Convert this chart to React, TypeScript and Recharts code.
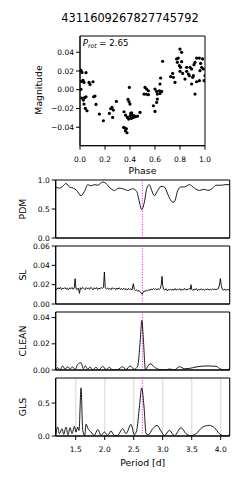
import React from 'react'
import {
  CartesianGrid,
  Line,
  LineChart,
  ReferenceArea,
  ReferenceLine,
  Scatter,
  ScatterChart,
  XAxis,
  YAxis,
} from 'recharts'

const FONT = '"DejaVu Sans", sans-serif'
const TICK_FONT = 7.5
const LABEL_FONT = 9.3

// folded light curve
const phase = [
  0.008, 0.016, 0.048, 0.011, 0.024, 0.032, 0.072, 0.08, 0.104, 0.008, 0.013, 0.037, 0.027, 0.048,
  0.032, 0.043, 0.056, 0.109, 0.12, 0.128, 0.155, 0.187, 0.235, 0.245, 0.256, 0.261, 0.291, 0.267,
  0.352, 0.365, 0.349, 0.36, 0.371, 0.376, 0.363, 0.379, 0.384, 0.395, 0.392, 0.4, 0.405, 0.4,
  0.411, 0.419, 0.427, 0.435, 0.445, 0.461, 0.48, 0.413, 0.389,
  0.52, 0.533, 0.547, 0.528, 0.512, 0.547, 0.6, 0.613, 0.619, 0.64, 0.635, 0.653, 0.587, 0.6,
  0.613, 0.619, 0.64, 0.645, 0.661,
  0.725, 0.741, 0.747, 0.76, 0.773, 0.787, 0.8, 0.813, 0.779, 0.795, 0.805, 0.813, 0.821, 0.8,
  0.84, 0.853, 0.867, 0.875, 0.88, 0.893, 0.901, 0.893, 0.907, 0.912, 0.92, 0.933, 0.955, 0.96,
  0.965, 0.973, 0.987, 0.981, 0.992, 1.0, 0.92, 0.933, 0.955, 0.853,
]
const mag = [
  0.0206, 0.0185, 0.0182, 0.0089, 0.01, 0.0078, 0.0078, 0.0057, 0.0085, 0.0004, -0.0089, -0.0085,
  -0.011, -0.0075, -0.0153, -0.0199, -0.0224, -0.0075, -0.0068, -0.0157, -0.026, -0.0331, -0.0253,
  -0.0203, -0.0189, -0.0295, -0.0125, -0.0217,
  -0.0235, -0.0271, -0.0402, -0.0409, -0.0417, -0.0459, -0.0438, -0.0295, -0.0103, 0.0025, -0.0128,
  -0.0153, -0.0253, -0.0281, -0.0306, -0.0271, -0.0295, -0.0278, -0.0288, -0.0281, -0.0242, -0.0246,
  -0.0313,
  0.0025, 0.0007, -0.0011, -0.0046, -0.0046, -0.0053, 0.0007, -0.0018, -0.0046, -0.0039, -0.0011,
  -0.0018, -0.0171, -0.0231, -0.0135, -0.01, 0.0061, 0.0125, 0.0303,
  0.0139, 0.0174, 0.0132, 0.0078, 0.0328, 0.0338, 0.0434, 0.0399, 0.0292, 0.0256, 0.0239, 0.0299,
  0.0174, 0.0196, 0.0114, 0.0196, 0.0167, 0.015, 0.0239, 0.0221, 0.0132, 0.0061, 0.015, 0.0267,
  0.0292, 0.0338, 0.0338, 0.0203, 0.0281, 0.0239, 0.0221, 0.0328, 0.0096, 0.015, -0.0046, 0.0085,
  0.0096, 0.0239,
]
const phaseTicks = [0, 0.2, 0.4, 0.6, 0.8, 1.0]
const magTicks = [-0.04, -0.02, 0, 0.02, 0.04]

const prot = 2.65
const periodTicks = [1.5, 2.0, 2.5, 3.0, 3.5, 4.0]

// PDM
const pdmP = [
  1.155, 1.218, 1.276, 1.333, 1.391, 1.46, 1.517, 1.592, 1.649, 1.707, 1.764, 1.822, 1.879, 1.966,
  2.023, 2.092, 2.167, 2.241, 2.31, 2.397, 2.483, 2.552, 2.598, 2.638, 2.684, 2.724, 2.77, 2.81,
  2.856, 2.914, 2.971, 3.029, 3.086, 3.144, 3.178, 3.21, 3.259, 3.316, 3.374, 3.46, 3.546, 3.632,
  3.718, 3.776, 3.862, 3.919, 4.006, 4.092, 4.155,
]
const pdmV = [
  0.88, 0.86, 0.89, 0.94, 0.88, 0.86, 0.82, 0.73, 0.8, 0.92, 0.9, 0.92, 0.91, 0.965, 0.94, 0.86,
  0.82, 0.86, 0.85, 0.82, 0.85, 0.8, 0.62, 0.49, 0.62, 0.85, 0.92, 0.82, 0.73, 0.82, 0.89, 0.88,
  0.76, 0.64, 0.615, 0.64, 0.82, 0.88, 0.88, 0.92, 0.86, 0.82, 0.84, 0.82, 0.86, 0.91, 0.91, 0.92,
  0.92,
]

// SL
const slP = [
  1.155, 1.175, 1.195, 1.215, 1.235, 1.255, 1.275, 1.295, 1.315, 1.335, 1.355, 1.375, 1.395, 1.415,
  1.435, 1.455, 1.475, 1.49, 1.505, 1.525, 1.545, 1.565, 1.58, 1.6, 1.62, 1.64, 1.66, 1.68, 1.7,
  1.72, 1.74, 1.76, 1.78, 1.8, 1.82, 1.84, 1.86, 1.88, 1.9, 1.92, 1.94, 1.96, 1.98, 1.994, 2.01,
  2.03, 2.05, 2.07, 2.09, 2.11, 2.13, 2.15, 2.17, 2.19, 2.21, 2.23, 2.25, 2.27, 2.29, 2.31, 2.33,
  2.35, 2.37, 2.39, 2.41, 2.43, 2.45, 2.47, 2.494, 2.51, 2.53, 2.55, 2.57, 2.59, 2.61, 2.63, 2.645,
  2.66, 2.68, 2.7, 2.72, 2.74, 2.76, 2.78, 2.8, 2.82, 2.84, 2.86, 2.88, 2.9, 2.92, 2.94, 2.96,
  2.975, 2.988, 3.0, 3.015, 3.035, 3.055, 3.075, 3.095, 3.115, 3.135, 3.155, 3.175, 3.195, 3.215,
  3.235, 3.255, 3.275, 3.295, 3.315, 3.335, 3.355, 3.375, 3.395, 3.415, 3.435, 3.455, 3.475,
  3.488, 3.5, 3.52, 3.54, 3.56, 3.58, 3.6, 3.62, 3.64, 3.66, 3.68, 3.7, 3.72, 3.74, 3.76, 3.78,
  3.8, 3.82, 3.84, 3.86, 3.88, 3.9, 3.92, 3.94, 3.96, 3.98, 3.994, 4.01, 4.03, 4.05, 4.07, 4.09,
  4.11, 4.13, 4.155,
]
const slV = [
  0.0162, 0.015, 0.0168, 0.0155, 0.0172, 0.0149, 0.0165, 0.0158, 0.017, 0.0152, 0.0163, 0.0147,
  0.0168, 0.0156, 0.0171, 0.0153, 0.0166, 0.0262, 0.0158, 0.0149, 0.0165, 0.011, 0.0168, 0.0152,
  0.0172, 0.016, 0.0148, 0.017, 0.0157, 0.0166, 0.0151, 0.0173, 0.0159, 0.0147, 0.0168, 0.0155,
  0.017, 0.0149, 0.0164, 0.0157, 0.0171, 0.016, 0.0175, 0.0331, 0.0168, 0.0155, 0.0166, 0.015,
  0.0162, 0.0148, 0.0169, 0.0156, 0.0164, 0.0147, 0.0166, 0.0153, 0.0168, 0.0151, 0.016, 0.0146,
  0.0163, 0.015, 0.0158, 0.0144, 0.0162, 0.0149, 0.0156, 0.0146, 0.021, 0.015, 0.0138, 0.0146,
  0.0132, 0.014, 0.0125, 0.0112, 0.01, 0.0118, 0.0135, 0.0128, 0.0145, 0.0136, 0.015, 0.0142,
  0.0156, 0.0147, 0.016, 0.015, 0.0158, 0.0145, 0.016, 0.0149, 0.0163, 0.02, 0.0286, 0.019,
  0.0152, 0.0144, 0.0158, 0.0138, 0.015, 0.0143, 0.0156, 0.0141, 0.0153, 0.0145, 0.016, 0.0142,
  0.0155, 0.0147, 0.0159, 0.014, 0.0154, 0.0146, 0.0161, 0.0143, 0.0155, 0.0148, 0.0162, 0.015,
  0.02, 0.0152, 0.014, 0.0155, 0.0147, 0.016, 0.0138, 0.0152, 0.0144, 0.0158, 0.0146, 0.0153,
  0.0141, 0.0155, 0.0148, 0.0157, 0.0143, 0.0152, 0.0147, 0.0156, 0.0149, 0.0154, 0.0148, 0.0155,
  0.016, 0.0205, 0.0262, 0.019, 0.015, 0.0142, 0.0156, 0.014, 0.0153, 0.0145, 0.015,
]

// CLEAN
const cleanP = [
  1.155, 1.19, 1.23, 1.276, 1.316, 1.362, 1.402, 1.448, 1.489, 1.534, 1.592, 1.632, 1.667, 1.707,
  1.747, 1.793, 1.851, 1.897, 1.966, 2.023, 2.08, 2.138, 2.224, 2.31, 2.368, 2.437, 2.511, 2.569,
  2.612, 2.64, 2.668, 2.701, 2.782, 2.856, 2.943, 3.057, 3.115, 3.201, 3.287, 3.374, 3.46, 3.575,
  3.747, 3.92, 4.006, 4.092, 4.155,
]
const cleanV = [
  0.0, 0.0018, 0.0, 0.0031, 0.0005, 0.0025, 0.001, 0.0023, 0.0003, 0.0043, 0.0056, 0.001, 0.0031,
  0.0005, 0.0023, 0.0002, 0.002, 0.0, 0.0028, 0.0003, 0.002, 0.0, 0.0003, 0.0025, 0.0003, 0.0031,
  0.0005, 0.003, 0.0222, 0.0378, 0.0222, 0.0005, 0.0048, 0.0023, 0.0003, 0.0, 0.0008, 0.0, 0.0025,
  0.001, 0.0012, 0.0023, 0.0031, 0.0028, 0.0005, 0.0, 0.001,
]

// GLS
const glsP = [
  1.155, 1.19, 1.218, 1.264, 1.293, 1.333, 1.368, 1.402, 1.437, 1.477, 1.506, 1.534, 1.557, 1.592,
  1.621, 1.655, 1.678, 1.713, 1.764, 1.822, 1.879, 1.937, 1.994, 2.052, 2.109, 2.167, 2.224, 2.31,
  2.368, 2.454, 2.511, 2.552, 2.598, 2.638, 2.678, 2.713, 2.753, 2.828, 2.902, 2.971, 3.029, 3.115,
  3.201, 3.316, 3.402, 3.489, 3.575, 3.69, 3.805, 3.891, 3.977, 4.034, 4.092, 4.155,
]
const glsV = [
  0.01, 0.136, 0.035, 0.111, 0.025, 0.136, 0.02, 0.126, 0.035, 0.146, 0.06, 0.136, 0.085, 0.73,
  0.085, 0.01, 0.18, 0.111, 0.06, 0.01, 0.1, 0.01, 0.06, 0.01, 0.075, 0.005, 0.01, 0.111, 0.035,
  0.176, 0.02, 0.085, 0.44, 0.73, 0.44, 0.035, 0.02, 0.111, 0.161, 0.075, 0.005, 0.085, 0.005,
  0.126, 0.035, 0.005, 0.035, 0.136, 0.161, 0.126, 0.035, 0.005, 0.0, 0.02,
]

const zip = (p: number[], v: number[]) => p.map((x, i) => ({ p: x, v: v[i] }))
const fmt = (d: number) => (v: number) => v.toFixed(d).replace('-', '\u2212')

const tickStyle = { fontSize: TICK_FONT, fill: '#000', fontFamily: FONT }

const PLOT_LEFT = 55.7
const PLOT_RIGHT = 229.7
const PANEL_H = 58
const P_DOMAIN: [number, number] = [1.155, 4.155]
const MAG_DOMAIN: [number, number] = [-0.0597, 0.0573]

const vLabel = (text: string, x: number, y: number) => ({
  content: () => (
    <text
      x={x}
      y={y}
      transform={`rotate(-90 ${x} ${y})`}
      textAnchor='middle'
      dominantBaseline='central'
      fontSize={LABEL_FONT}
      fontFamily={FONT}
      fill='#000'
    >
      {text}
    </text>
  ),
})

const Dot = (props: any) => <circle cx={props.cx} cy={props.cy} r={1.6} fill='#000' />

interface PanelProps {
  top: number
  data: { p: number; v: number }[]
  name: string
  yDomain: [number, number]
  yTicks: number[]
  digits: number
  curve: 'monotone' | 'linear'
  last?: boolean
}

const Panel: React.FC<PanelProps> = ({ top, data, name, yDomain, yTicks, digits, curve, last }) => {
  const axisH = last ? 40 : 6
  return (
    <div style={{ position: 'absolute', left: 0, top: top - 5 }}>
      <LineChart
        width={249}
        height={5 + PANEL_H + axisH}
        data={data}
        margin={{ top: 5, right: 249 - PLOT_RIGHT, bottom: 0, left: 0 }}
      >
        <CartesianGrid horizontal={false} stroke='#e3e3e3' strokeWidth={1.5} />
        <XAxis
          type='number'
          dataKey='p'
          domain={P_DOMAIN}
          ticks={periodTicks}
          allowDataOverflow
          height={axisH}
          stroke='#000'
          tickSize={4}
          tickMargin={7}
          tick={last ? tickStyle : false}
          tickFormatter={fmt(1)}
          label={
            last
              ? {
                  content: () => (
                    <text
                      x={142.7}
                      y={5 + PANEL_H + 30}
                      textAnchor='middle'
                      fontSize={LABEL_FONT}
                      fontFamily={FONT}
                      fill='#000'
                    >
                      Period [d]
                    </text>
                  ),
                }
              : undefined
          }
        />
        <YAxis
          type='number'
          domain={yDomain}
          ticks={yTicks}
          allowDataOverflow
          width={PLOT_LEFT}
          stroke='#000'
          tickSize={4}
          tickMargin={2}
          tick={tickStyle}
          tickFormatter={fmt(digits)}
          label={vLabel(name, 22.7, 5 + PANEL_H / 2)}
        />
        <ReferenceLine x={prot} stroke='#ff00ff' strokeWidth={1} strokeDasharray='1 1.6' />
        <Line
          type={curve}
          dataKey='v'
          stroke='#000'
          strokeWidth={0.9}
          dot={false}
          isAnimationActive={false}
        />
        {/* axes frame */}
        <ReferenceArea
          x1={P_DOMAIN[0]}
          x2={P_DOMAIN[1]}
          y1={yDomain[0]}
          y2={yDomain[1]}
          fill='none'
          fillOpacity={0}
          stroke='#000'
          strokeWidth={1}
          ifOverflow='visible'
        />
      </LineChart>
    </div>
  )
}

const App: React.FC = () => {
  const lc = phase.map((ph, i) => ({ ph, m: mag[i] }))
  return (
    <div
      style={{
        position: 'absolute',
        left: 0,
        top: 0,
        width: 249,
        height: 480,
        background: '#fff',
        fontFamily: FONT,
      }}
    >
      <div
        style={{
          position: 'absolute',
          left: 0,
          width: 260,
          top: 11,
          textAlign: 'center',
          fontSize: 11.4,
          lineHeight: '14px',
        }}
      >
        4311609267827745792
      </div>
      <div style={{ position: 'absolute', left: 0, top: 0 }}>
        <ScatterChart width={249} height={180} margin={{ top: 36, right: 44, bottom: 0, left: 0 }}>
          <XAxis
            type='number'
            dataKey='ph'
            domain={[0, 1]}
            ticks={phaseTicks}
            allowDataOverflow
            height={34.3}
            stroke='#000'
            tickSize={4}
            tickMargin={7}
            tick={tickStyle}
            tickFormatter={fmt(1)}
            label={{
              content: () => (
                <text x={142.5} y={174} textAnchor='middle' fontSize={LABEL_FONT} fontFamily={FONT} fill='#000'>
                  Phase
                </text>
              ),
            }}
          />
          <YAxis
            type='number'
            dataKey='m'
            domain={MAG_DOMAIN}
            ticks={magTicks}
            allowDataOverflow
            width={80}
            stroke='#000'
            tickSize={4}
            tickMargin={2}
            tick={tickStyle}
            tickFormatter={fmt(2)}
            label={vLabel('Magnitude', 38.3, 90)}
          />
          <ReferenceArea
            x1={0}
            x2={1}
            y1={MAG_DOMAIN[0]}
            y2={MAG_DOMAIN[1]}
            fill='none'
            fillOpacity={0}
            stroke='#000'
            strokeWidth={1}
            ifOverflow='visible'
          />
          <Scatter data={lc} fill='#000' shape={Dot} isAnimationActive={false} />
        </ScatterChart>
      </div>
      <div
        style={{
          position: 'absolute',
          left: 82.7,
          top: 38,
          fontSize: 8.6,
          lineHeight: '11px',
          whiteSpace: 'nowrap',
        }}
      >
        <i>P</i>
        <i style={{ fontSize: 6.2, position: 'relative', top: 2 }}>rot</i> = {prot.toFixed(2)}
      </div>
      <Panel top={180} data={zip(pdmP, pdmV)} name='PDM' yDomain={[0, 1]} yTicks={[0, 0.5, 1]} digits={1} curve='monotone' />
      <Panel top={246} data={zip(slP, slV)} name='SL' yDomain={[0, 0.06]} yTicks={[0, 0.02, 0.04, 0.06]} digits={2} curve='linear' />
      <Panel top={312} data={zip(cleanP, cleanV)} name='CLEAN' yDomain={[0, 0.0443]} yTicks={[0, 0.02, 0.04]} digits={2} curve='monotone' />
      <Panel top={378} data={zip(glsP, glsV)} name='GLS' yDomain={[0, 0.88]} yTicks={[0, 0.5]} digits={1} curve='monotone' last />
    </div>
  )
}

export default App
